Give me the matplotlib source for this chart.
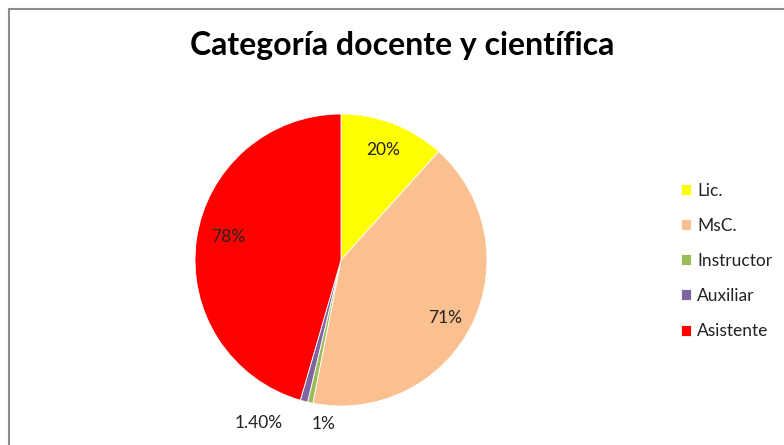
import numpy as np
import matplotlib.pyplot as plt
from matplotlib.patches import Rectangle

categories = ["Lic.", "MsC.", "Instructor", "Auxiliar", "Asistente"]
values = [20, 71, 1, 1.4, 78]
pct_labels = ["20%", "71%", "1%", "1.40%", "78%"]
colors = ["#FFFF00", "#FAC090", "#9BBB59", "#8064A2", "#FF0000"]

# label placement (radius in pie units, angle nudge in degrees)
label_r = [0.81, 0.815, 1.13, 1.25, 0.79]
label_nudge = [0, -2.5, 6, -12, -3.5]

plt.rcParams["font.family"] = ["Lato", "DejaVu Sans"]

W, H = 784, 445
fig = plt.figure(figsize=(W / 100, H / 100), dpi=100)
fig.patch.set_facecolor("white")

# chart border (only top/left visible in crop)
fig.add_artist(Rectangle((9 / W, -0.1), 1.2, 1 - 9 / H + 0.1, transform=fig.transFigure,
                         fill=False, edgecolor="#8c8c8c", linewidth=1.5))

cx, cy, r = 341, 260, 146
ax = fig.add_axes([(cx - r) / W, (H - cy - r) / H, 2 * r / W, 2 * r / H])
wedges, _ = ax.pie(values, colors=colors, startangle=90, counterclock=False,
                   wedgeprops=dict(edgecolor="white", linewidth=0.6))
ax.set_xlim(-1, 1)
ax.set_ylim(-1, 1)
ax.set_aspect("equal")
ax.axis("off")

for w, lab, lr, nd in zip(wedges, pct_labels, label_r, label_nudge):
    ang = np.deg2rad((w.theta1 + w.theta2) / 2 + nd)
    ax.text(lr * np.cos(ang), lr * np.sin(ang), lab, ha="center", va="center",
            fontsize=12.5, color="#222222", clip_on=False)

fig.text(402 / W, 1 - 46 / H, "Categoría docente y científica", ha="center", va="center",
         fontsize=23, fontweight="bold", color="black")

leg = fig.legend(wedges, categories, loc="center left", bbox_to_anchor=(665 / W, 1 - 261 / H),
                 frameon=False, fontsize=12.5, handlelength=0.6, handleheight=0.6,
                 handletextpad=0.35, labelspacing=1.1)
for t in leg.get_texts():
    t.set_color("#222222")

fig.savefig("out.png", dpi=100)
